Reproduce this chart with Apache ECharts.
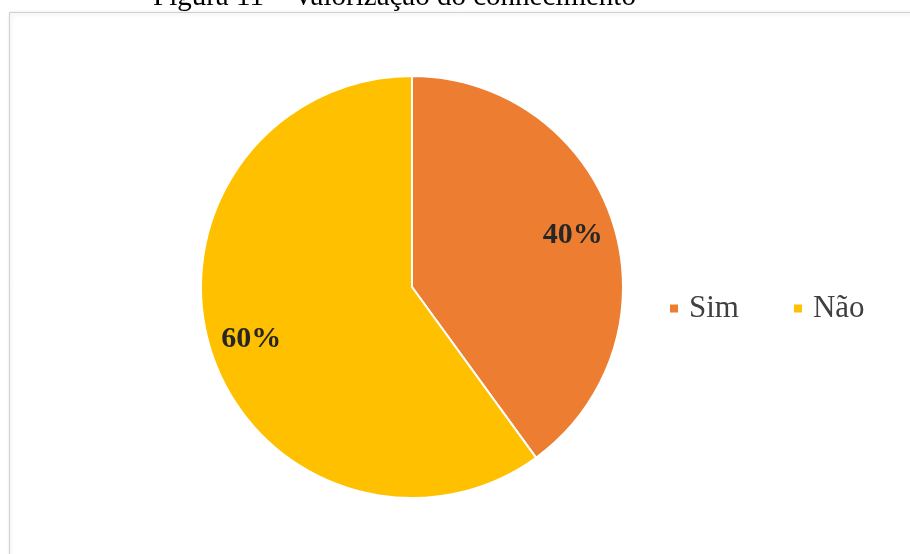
<!DOCTYPE html>
<html>
<head>
<meta charset="utf-8">
<script src="https://cdn.jsdelivr.net/npm/echarts@6/dist/echarts.min.js"></script>
<style>
html,body{margin:0;padding:0;background:#fff;}
#chart{width:910px;height:554px;}
</style>
</head>
<body>
<div id="chart"></div>
<script>
const titleText = 'Figura 11 – Valorização do conhecimento';
const categories = ['Sim', 'Não'];
const values = [40, 60];
const colors = ['#ED7D31', '#FFC000'];

const data = categories.map((c, i) => ({ name: c, value: values[i], itemStyle: { color: colors[i] } }));

const chart = echarts.init(document.getElementById('chart'));
chart.setOption({
  backgroundColor: '#ffffff',
  animation: false,
  title: {
    text: titleText,
    left: 153,
    top: -17,
    padding: 0,
    textStyle: { fontFamily: 'Liberation Serif', fontWeight: 'normal', fontSize: 29, color: '#000' }
  },
  graphic: [{
    type: 'rect',
    z: -10,
    shape: { x: 9.5, y: 12.5, width: 940, height: 600 },
    style: { fill: '#ffffff', stroke: '#d0d0d0', lineWidth: 1, shadowBlur: 4, shadowColor: 'rgba(0,0,0,0.15)', shadowOffsetX: 1, shadowOffsetY: 1 }
  }],
  legend: {
    data: categories,
    orient: 'horizontal',
    left: 663,
    top: 288,
    itemWidth: 10,
    itemHeight: 10,
    itemGap: 53,
    icon: 'rect',
    textStyle: { fontFamily: 'Liberation Serif', fontSize: 31, color: '#404040', padding: [0, 0, 0, 5] }
  },
  series: [{
    type: 'pie',
    center: [412, 287],
    radius: [0, 211],
    startAngle: 90,
    clockwise: true,
    data: data,
    label: { show: false },
    labelLine: { show: false },
    itemStyle: { borderColor: '#ffffff', borderWidth: 2 },
    emphasis: { disabled: true }
  }, {
    type: 'pie',
    center: [412, 287],
    radius: [0, 332],
    startAngle: 90,
    clockwise: true,
    silent: true,
    data: data.map(d => ({ name: d.name, value: d.value, itemStyle: { color: 'rgba(0,0,0,0)' } })),
    legendHoverLink: false,
    label: {
      show: true,
      position: 'inside',
      formatter: p => p.value + '%',
      fontFamily: 'Liberation Serif',
      fontWeight: 'bold',
      fontSize: 30,
      color: '#262626'
    },
    labelLine: { show: false },
    itemStyle: { borderWidth: 0 },
    emphasis: { disabled: true }
  }]
});
</script>
</body>
</html>
